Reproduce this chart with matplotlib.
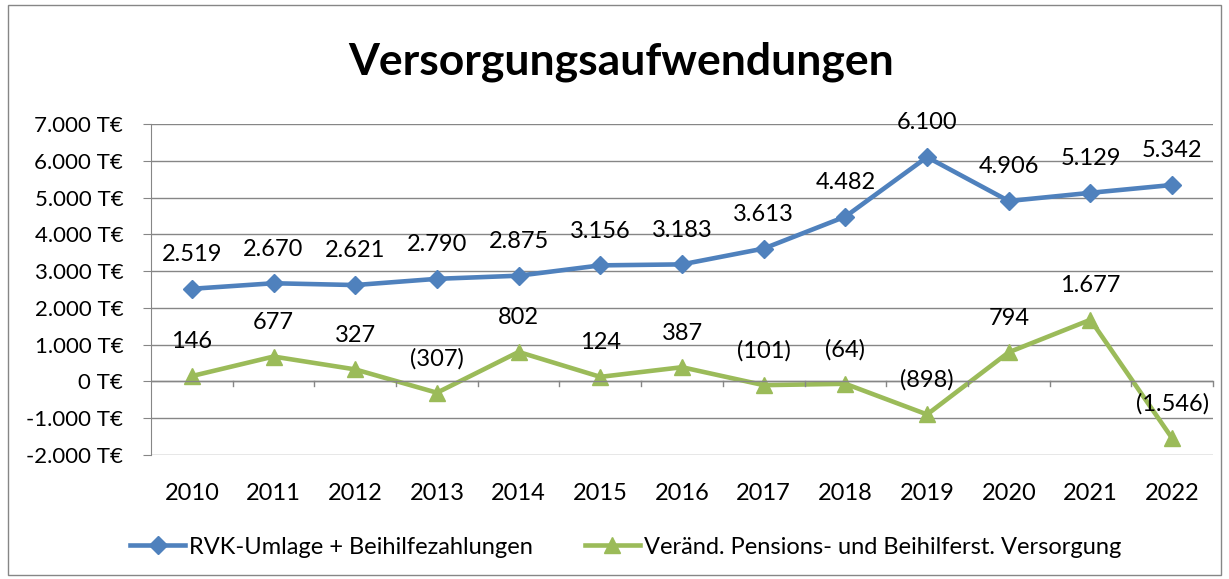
import matplotlib.pyplot as plt
from matplotlib.patches import Rectangle
from matplotlib.ticker import FuncFormatter

# Daten
jahre = ['2010', '2011', '2012', '2013', '2014', '2015', '2016',
         '2017', '2018', '2019', '2020', '2021', '2022']
rvk_beihilfe = [2519, 2670, 2621, 2790, 2875, 3156, 3183, 3613, 4482, 6100, 4906, 5129, 5342]
veraenderung = [146, 677, 327, -307, 802, 124, 387, -101, -64, -898, 794, 1677, -1546]

blau = '#4F81BD'
gruen = '#9BBB59'
grau = '#868686'

plt.rcParams.update({'font.family': ['Lato', 'DejaVu Sans'], 'font.size': 16})


def fmt_de(v):
    s = f'{abs(v):,.0f}'.replace(',', '.')
    return f'({s})' if v < 0 else s


fig = plt.figure(figsize=(12.29, 5.79), dpi=100)
ax = fig.add_axes([151 / 1229, 1 - 455 / 579, (1213 - 151) / 1229, (455 - 124) / 579])

# Rahmen um das Diagramm
fig.patches.append(Rectangle((8 / 1229, 4 / 579), 1213 / 1229, 570 / 579,
                             transform=fig.transFigure, fill=False,
                             edgecolor=grau, linewidth=1))

x = list(range(len(jahre)))
ax.plot(x, rvk_beihilfe, color=blau, linewidth=3.3, marker='D', markersize=9,
        label='RVK-Umlage + Beihilfezahlungen')
ax.plot(x, veraenderung, color=gruen, linewidth=3.3, marker='^', markersize=11,
        label='Veränd. Pensions- und Beihilferst. Versorgung')

for xi, v in zip(x, rvk_beihilfe):
    ax.annotate(fmt_de(v), (xi, v), xytext=(0, 17), textcoords='offset points',
                ha='center', va='bottom', fontsize=17)
for xi, v in zip(x, veraenderung):
    ax.annotate(fmt_de(v), (xi, v), xytext=(0, 17), textcoords='offset points',
                ha='center', va='bottom', fontsize=17)

ax.set_xlim(-0.5, len(jahre) - 0.5)
ax.set_ylim(-2000, 7000)
ax.set_yticks(range(-2000, 7001, 1000))
ax.yaxis.set_major_formatter(FuncFormatter(
    lambda v, p: f'{v:,.0f} T€'.replace(',', '.')))
ax.grid(axis='y', color=grau, linewidth=1)
ax.set_axisbelow(True)

for s in ['top', 'right', 'bottom']:
    ax.spines[s].set_visible(False)
ax.spines['left'].set_color(grau)
ax.tick_params(axis='y', length=6, color=grau, pad=14)

# x-Achse bei 0 mit Teilstrichen zwischen den Kategorien
ax.axhline(0, color=grau, linewidth=1)
for b in [i - 0.5 for i in range(1, len(jahre) + 1)]:
    ax.plot([b, b], [0, -120], color=grau, linewidth=1, clip_on=False)
ax.set_xticks(x)
ax.set_xticklabels(jahre, fontsize=17)
ax.tick_params(axis='x', length=0, pad=20)

fig.text(621 / 1229, 1 - 62 / 579, 'Versorgungsaufwendungen', ha='center', va='center',
         fontsize=32, fontweight='bold')

fig.legend(loc='center', bbox_to_anchor=(626 / 1229, 1 - 547 / 579), ncol=2,
           frameon=False, fontsize=17, handlelength=2.3, columnspacing=2.2,
           handletextpad=0.2)

plt.savefig('out.png', dpi=100)
